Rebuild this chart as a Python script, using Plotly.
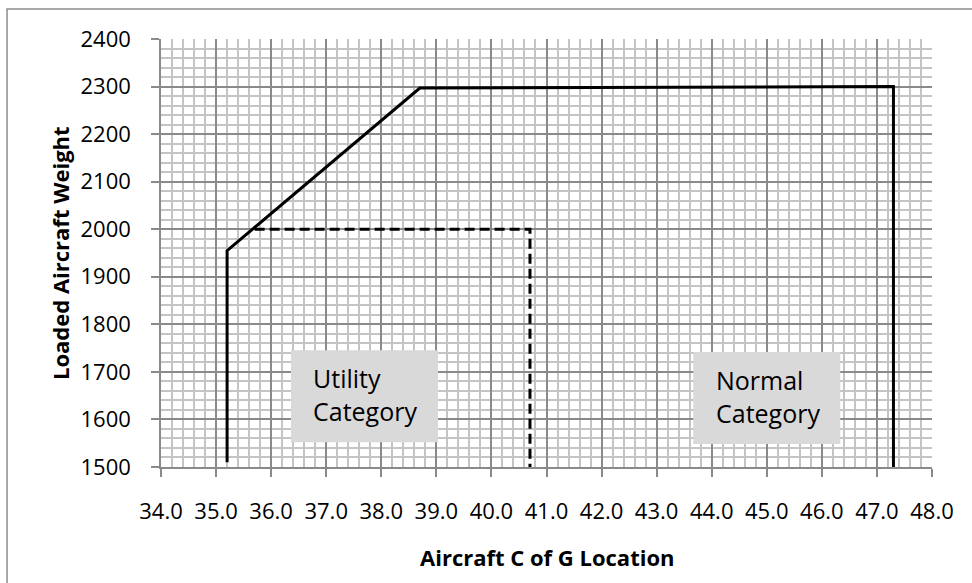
import plotly.graph_objects as go

# Data
solid_x = [35.2, 35.2, 38.7, 47.3, 47.3]
solid_y = [1510, 1955, 2297, 2300, 1500]
dash_x = [35.7, 40.7, 40.7]
dash_y = [2000, 2000, 1500]

x_ticks = [34 + i for i in range(15)]
x_tick_labels = [f"{v:.1f}" for v in x_ticks]
y_ticks = list(range(1500, 2401, 100))

labels = ["Utility<br>Category", "Normal<br>Category"]
label_x = [37.695, 45.0]
label_y = [1649, 1645]

x_title = "Aircraft C of G Location"
y_title = "Loaded Aircraft Weight"

FONT = "Open Sans"
GRID_MAJOR = "#8a8a8a"
GRID_MINOR = "#c4c4c4"

fig = go.Figure()
fig.add_trace(go.Scatter(x=solid_x, y=solid_y, mode="lines",
                         line=dict(color="black", width=3), showlegend=False,
                         hoverinfo="skip"))
fig.add_trace(go.Scatter(x=dash_x, y=dash_y, mode="lines",
                         line=dict(color="black", width=3, dash="10px,5px"),
                         showlegend=False, hoverinfo="skip"))

for t, x, y in zip(labels, label_x, label_y):
    fig.add_shape(type="rect", xref="x", yref="y",
                  xsizemode="pixel", ysizemode="pixel",
                  xanchor=x, yanchor=y, x0=-73.5, x1=73.5, y0=-46, y1=46,
                  fillcolor="#d9d9d9", line=dict(width=0), layer="above")
    fig.add_annotation(x=x, y=y, xref="x", yref="y", text=t, showarrow=False,
                       xanchor="left", yanchor="middle", xshift=-53, yshift=2,
                       align="left",
                       font=dict(family=FONT, size=25, color="black"))

# axis titles
fig.add_annotation(x=0.5, y=-0.2103, xref="paper", yref="paper",
                   text=f"<b>{x_title}</b>", showarrow=False,
                   xanchor="center", yanchor="middle",
                   font=dict(family=FONT, size=22, color="black"))
fig.add_annotation(x=-0.1310, y=0.5, xref="paper", yref="paper",
                   text=f"<b>{y_title}</b>", showarrow=False, textangle=-90,
                   xanchor="center", yanchor="middle",
                   font=dict(family=FONT, size=22, color="black"))

# outer frame
fig.add_shape(type="rect", xref="paper", yref="paper",
              x0=-0.1997, x1=1.07, y0=-0.30, y1=1.0703,
              line=dict(color="#8c8c8c", width=1.5), fillcolor="rgba(0,0,0,0)",
              layer="below")

fig.update_layout(
    width=972, height=583,
    margin=dict(l=161, r=40, t=39, b=116),
    paper_bgcolor="white", plot_bgcolor="white",
    font=dict(family=FONT, color="black"),
    xaxis=dict(
        range=[34, 48], tickvals=x_ticks, ticktext=x_tick_labels,
        showgrid=True, gridcolor=GRID_MAJOR, gridwidth=1.5,
        minor=dict(dtick=0.2, tick0=34, showgrid=True, gridcolor=GRID_MINOR, gridwidth=1.5),
        showline=True, linecolor=GRID_MAJOR, linewidth=1.5,
        ticks="outside", ticklen=8, tickcolor=GRID_MAJOR, tickwidth=1.5,
        tickfont=dict(family=FONT, size=22, color="black"),
        ticklabelstandoff=16,
        zeroline=False, fixedrange=True,
    ),
    yaxis=dict(
        range=[1500, 2400], tickvals=y_ticks,
        showgrid=True, gridcolor=GRID_MAJOR, gridwidth=1.5,
        minor=dict(dtick=20, tick0=1500, showgrid=True, gridcolor=GRID_MINOR, gridwidth=1.5),
        showline=True, linecolor=GRID_MAJOR, linewidth=1.5,
        ticks="outside", ticklen=8, tickcolor=GRID_MAJOR, tickwidth=1.5,
        tickfont=dict(family=FONT, size=22, color="black"),
        ticklabelstandoff=16,
        zeroline=False, fixedrange=True,
    ),
)

fig.write_html("out.html", config={"displayModeBar": False},
               post_script="document.body.style.margin='0';")
